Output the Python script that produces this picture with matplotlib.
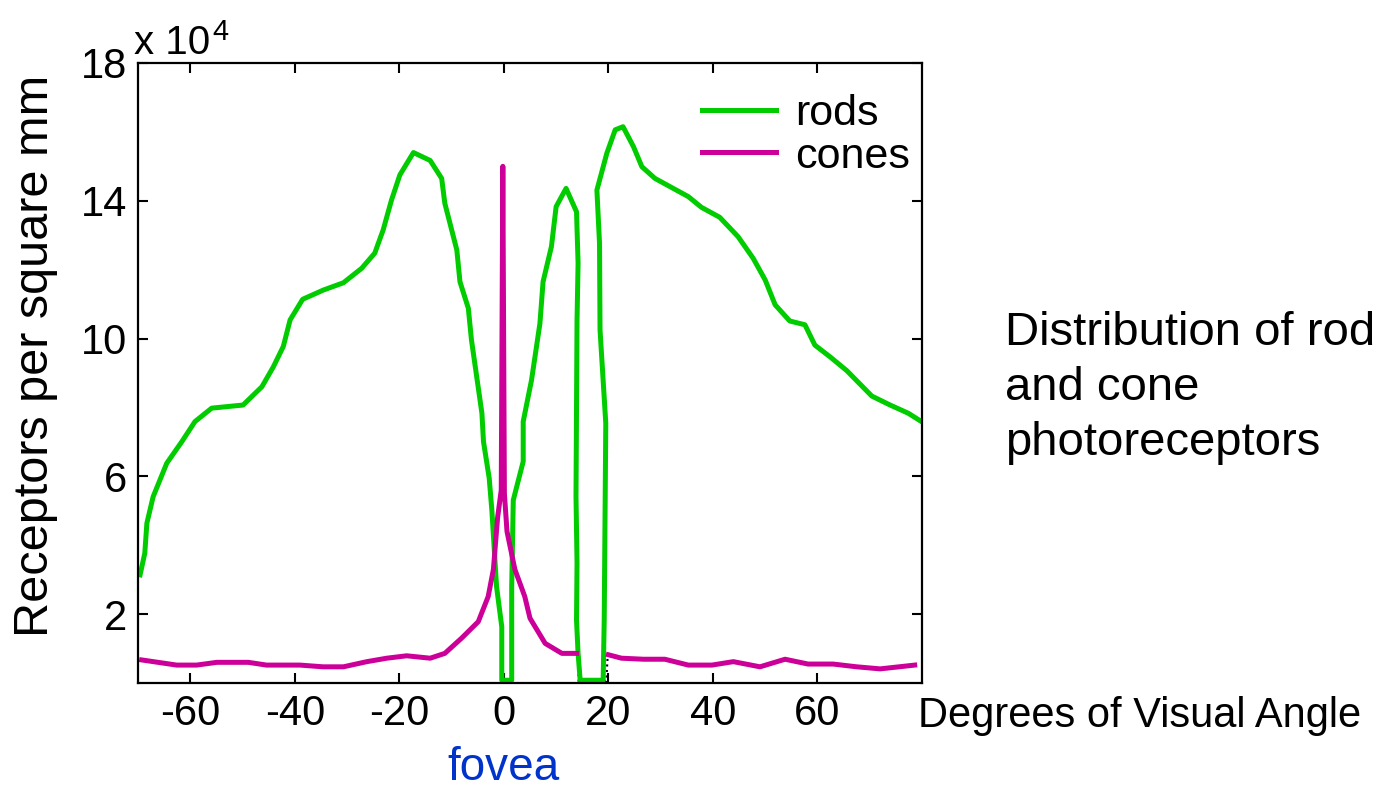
import matplotlib.pyplot as plt
import numpy as np

plt.rcParams['font.family'] = ['Liberation Sans', 'DejaVu Sans']

# values in units of 10^4 receptors per square mm
rods_x = [-69.6, -68.7, -68.3, -67.1, -64.5, -61.6, -59.1, -55.9, -49.9, -46.3,
          -44.1, -42.2, -40.9, -38.5, -34.5, -30.7, -27.2, -24.7, -23.1, -21.5,
          -19.9, -17.3, -14.1, -11.9, -11.3, -9.0, -8.4, -6.8, -6.2, -4.2,
          -3.9, -2.8, -2.3, -1.4, -0.4, -0.4, 1.5, 1.5, 1.8, 3.7,
          3.7, 5.3, 6.9, 7.5, 9.1, 10.0, 11.9, 13.9, 14.2, 14.0,
          13.8, 14.0, 13.9, 14.2, 14.6, 19.0, 19.2, 19.5, 18.4, 18.3,
          17.8, 19.7, 21.3, 22.8, 24.8, 26.4, 28.9, 32.4, 35.3, 37.8,
          41.3, 44.8, 47.7, 50.0, 51.9, 54.7, 57.6, 59.5, 62.4, 65.6,
          70.4, 73.9, 77.4, 79.9]
rods_y = [3.14, 3.77, 4.64, 5.41, 6.38, 7.01, 7.59, 7.98, 8.07, 8.60,
          9.18, 9.77, 10.54, 11.14, 11.41, 11.62, 12.04, 12.48, 13.15, 14.02,
          14.75, 15.40, 15.17, 14.65, 13.93, 12.57, 11.65, 10.88, 9.96, 7.83,
          7.01, 5.94, 5.02, 2.80, 1.63, 0.08, 0.08, 2.80, 5.31, 6.43,
          7.59, 8.80, 10.44, 11.65, 12.67, 13.83, 14.36, 13.68, 12.19, 10.54,
          5.41, 3.47, 1.83, 0.86, 0.08, 0.08, 1.83, 7.54, 10.25, 12.77,
          14.31, 15.38, 16.06, 16.15, 15.57, 14.99, 14.65, 14.36, 14.12, 13.81,
          13.52, 12.96, 12.33, 11.70, 10.98, 10.51, 10.40, 9.81, 9.47, 9.07,
          8.33, 8.07, 7.83, 7.59]

cones_x = [-69.3, -62.6, -58.8, -54.9, -48.9, -45.4, -39.0, -34.6, -30.7, -26.2,
           -22.4, -18.6, -14.1, -11.3, -8.1, -4.9, -3.0, -2.0, -1.2, -0.5,
           -0.2, 0.1, 0.6, 2.1, 4.0, 5.0, 7.9, 11.1, 13.9, np.nan,
           20.0, 22.5, 26.7, 30.8, 35.3, 39.8, 43.9, 49.0, 53.8, 58.2,
           63.0, 67.5, 72.0, 78.6]
cones_y = [0.67, 0.52, 0.52, 0.60, 0.60, 0.52, 0.52, 0.47, 0.47, 0.62,
           0.72, 0.79, 0.72, 0.86, 1.30, 1.78, 2.51, 3.30, 4.80, 5.60,
           15.0, 5.50, 4.40, 3.30, 2.51, 1.88, 1.15, 0.86, 0.86, np.nan,
           0.82, 0.72, 0.69, 0.69, 0.52, 0.52, 0.62, 0.47, 0.69, 0.55,
           0.55, 0.47, 0.41, 0.52]

# blind spot dotted outline
disc_x = [14.3, 14.3, 19.6, 19.9]
disc_y = [0.9, 0.05, 0.05, 0.9]

xticks = [-60, -40, -20, 0, 20, 40, 60]
yticks = [2, 6, 10, 14, 18]

fig = plt.figure(figsize=(13.87, 7.91), dpi=100)
ax = fig.add_axes([138 / 1387, 1 - 683 / 791, 784 / 1387, 620 / 791])

ax.plot(disc_x, disc_y, ':', color='black', lw=1.5, zorder=1)
ax.plot(rods_x, rods_y, color='#00cc00', lw=3.6, label='rods')
ax.plot(cones_x, cones_y, color='#cc0099', lw=3.6, label='cones')

ax.set_xlim(-70, 80)
ax.set_ylim(0, 18)
ax.set_xticks(xticks)
ax.set_yticks(yticks)
ax.set_xticklabels([str(t) for t in xticks], fontsize=30)
ax.set_yticklabels([str(t) for t in yticks], fontsize=30)
ax.tick_params(direction='in', top=True, right=True, length=7, width=1.5, pad=8)
for s in ax.spines.values():
    s.set_linewidth(1.6)

ax.set_ylabel('Receptors per square mm', fontsize=35)
ax.yaxis.set_label_coords(-0.102, 0.527)

# exponent label above the axis
fig.text(134 / 1387, 1 - 54 / 791, 'x 10', fontsize=29, ha='left', va='baseline')
fig.text(212 / 1387, 1 - 40 / 791, '4', fontsize=21, ha='left', va='baseline')

fig.text(918 / 1387, 1 - 716 / 791, 'Degrees of Visual Angle', fontsize=30,
         ha='left', va='center')
fig.text(503 / 1387, 1 - 768 / 791, 'fovea', fontsize=33, color='#0033cc',
         ha='center', va='center')
fig.text(1005 / 1387, 1 - 388 / 791, 'Distribution of rod\nand cone\nphotoreceptors',
         fontsize=34, ha='left', va='center', linespacing=1.33)

ax.legend(loc='upper right', frameon=False, fontsize=31, handlelength=1.7,
          handletextpad=0.45, labelspacing=0.05, borderaxespad=0.3,
          bbox_to_anchor=(1.023, 0.998))

fig.savefig('out.png', dpi=100)
